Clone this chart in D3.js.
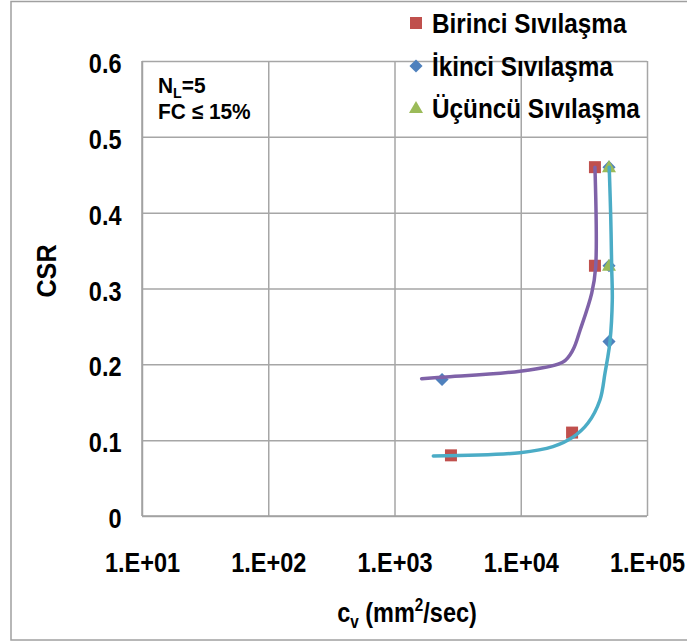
<!DOCTYPE html>
<html><head><meta charset="utf-8">
<script src="https://cdn.jsdelivr.net/npm/d3@7"></script>
<style>
html,body{margin:0;padding:0;background:#fff;}
svg text{font-family:"Liberation Sans",Arial,sans-serif;font-weight:bold;fill:#000;}
</style></head>
<body>
<script>
// ---- data ----
const xTicks = [1e1, 1e2, 1e3, 1e4, 1e5];
const xTickLabels = ["1.E+01", "1.E+02", "1.E+03", "1.E+04", "1.E+05"];
const yTicks = [0, 0.1, 0.2, 0.3, 0.4, 0.5, 0.6];
const yTickLabels = ["0", "0.1", "0.2", "0.3", "0.4", "0.5", "0.6"];
const seriesNames = ["Birinci Sıvılaşma", "İkinci Sıvılaşma", "Üçüncü Sıvılaşma"];
const birinciCv = [38700, 38700, 25500, 2800];
const birinciCsr = [0.46, 0.33, 0.11, 0.08];
const ikinciCv = [50000, 50000, 50000, 2380];
const ikinciCsr = [0.46, 0.33, 0.23, 0.18];
const ucuncuCv = [50000, 50000];
const ucuncuCsr = [0.46, 0.33];
// fitted curves
const purpleCv = [1640, 2420, 9860, 21600, 25900, 29500, 36500, 39200, 38700];
const purpleCsr = [0.181, 0.183, 0.191, 0.203, 0.219, 0.245, 0.294, 0.328, 0.46];
const cyanCv = [2030, 9860, 18000, 25900, 34100, 42400, 46500, 48500, 50900, 53100, 52500, 51600, 50200];
const cyanCsr = [0.079, 0.0835, 0.0914, 0.104, 0.1226, 0.153, 0.1886, 0.206, 0.23, 0.285, 0.329, 0.395, 0.46];

const W = 687, H = 641;
const FS = 27, SX = 0.87;
const FF = '"Liberation Sans",Arial,sans-serif';
const svg = d3.select("body").append("svg").attr("width", W).attr("height", H);

// outer border
svg.append("rect").attr("x", 11).attr("y", 1.5).attr("width", 700).attr("height", 638.5)
  .attr("fill", "none").attr("stroke", "#a0a0a0").attr("stroke-width", 1.5);

const L = 142, R = 647, T = 61, B = 516;
const x = d3.scaleLog().domain([10, 1e5]).range([L, R]);
const y = d3.scaleLinear().domain([0, 0.6]).range([B, T]);

// x axis with grid
const xAxis = svg.append("g").attr("transform", `translate(0,${B})`)
  .call(d3.axisBottom(x).tickValues(xTicks).tickSize(-(B - T)).tickFormat((d, i) => xTickLabels[i]));
xAxis.select(".domain").remove();
xAxis.selectAll("line").attr("stroke", "#a6a6a6").attr("stroke-width", 1.5);
xAxis.selectAll("text").attr("y", 56).attr("dy", 0).attr("font-size", FS)
  .attr("transform", `scale(${SX},1)`).style("font-family", FF).style("font-weight", "bold");

// y axis with grid
const yAxis = svg.append("g").attr("transform", `translate(${L},0)`)
  .call(d3.axisLeft(y).tickValues(yTicks).tickSize(-(R - L)).tickFormat((d, i) => yTickLabels[i]));
yAxis.select(".domain").remove();
yAxis.selectAll("line").attr("stroke", "#a6a6a6").attr("stroke-width", 1.5);
yAxis.selectAll("text").attr("x", -20.5 / SX).attr("dy", "0.43em").attr("font-size", FS)
  .attr("transform", `scale(${SX},1)`).style("font-family", FF).style("font-weight", "bold");

// axis lines (left & bottom)
svg.append("line").attr("x1", L).attr("x2", L).attr("y1", T).attr("y2", B).attr("stroke", "#a0a0a0").attr("stroke-width", 1.5);
svg.append("line").attr("x1", L).attr("x2", R).attr("y1", B).attr("y2", B).attr("stroke", "#a0a0a0").attr("stroke-width", 1.5);

// axis titles
const xt = svg.append("text").attr("transform", `translate(407,622) scale(${SX},1)`).attr("text-anchor", "middle").attr("font-size", FS);
xt.append("tspan").text("c");
xt.append("tspan").attr("font-size", FS * 0.65).attr("dy", 6).text("v");
xt.append("tspan").attr("dy", -6).text(" (mm");
xt.append("tspan").attr("font-size", FS * 0.65).attr("dy", -11).text("2");
xt.append("tspan").attr("dy", 11).text("/sec)");

svg.append("text").attr("transform", `translate(56,271) rotate(-90) scale(0.9,1)`).attr("text-anchor", "middle")
  .attr("font-size", 28).text("CSR");

// annotation
const a1 = svg.append("text").attr("transform", `translate(158,93) scale(0.95,1)`).attr("font-size", 22);
a1.append("tspan").text("N");
a1.append("tspan").attr("font-size", 15).attr("dy", 5).text("L");
a1.append("tspan").attr("dy", -5).text("=5");
svg.append("text").attr("transform", `translate(158,119) scale(0.95,1)`).attr("font-size", 22).text("FC ≤ 15%");

// markers
const red = "#c0504d", blue = "#4f81bd", green = "#9bbb59", purple = "#7f62a8", cyan = "#4bacc6";
const sq = d3.symbol().type(d3.symbolSquare).size(144);
const dia = d3.symbol().type(d3.symbolDiamond2).size(110);
const tri = d3.symbol().type(d3.symbolTriangle).size(85);

svg.append("g").selectAll("path").data(d3.range(birinciCv.length)).join("path")
  .attr("d", sq).attr("fill", red)
  .attr("transform", i => `translate(${x(birinciCv[i])},${y(birinciCsr[i])})`);
svg.append("g").selectAll("path").data(d3.range(ikinciCv.length)).join("path")
  .attr("d", dia).attr("fill", blue)
  .attr("transform", i => `translate(${x(ikinciCv[i])},${y(ikinciCsr[i])})`);
svg.append("g").selectAll("path").data(d3.range(ucuncuCv.length)).join("path")
  .attr("d", tri).attr("fill", green)
  .attr("transform", i => `translate(${x(ucuncuCv[i])},${y(ucuncuCsr[i]) + 1})`);

// curves
const line = d3.line().x(d => x(d[0])).y(d => y(d[1])).curve(d3.curveCatmullRom.alpha(0.5));
svg.append("path").datum(purpleCv.map((v, i) => [v, purpleCsr[i]])).attr("d", line)
  .attr("fill", "none").attr("stroke", purple).attr("stroke-width", 3.5).attr("stroke-linecap", "round");
svg.append("path").datum(cyanCv.map((v, i) => [v, cyanCsr[i]])).attr("d", line)
  .attr("fill", "none").attr("stroke", cyan).attr("stroke-width", 3.5).attr("stroke-linecap", "round");

// legend
const legY = [23, 66, 108];
const lg = svg.append("g");
lg.append("path").attr("d", sq).attr("fill", red).attr("transform", `translate(416,${legY[0]})`);
lg.append("path").attr("d", dia).attr("fill", blue).attr("transform", `translate(416,${legY[1]})`);
lg.append("path").attr("d", tri).attr("fill", green).attr("transform", `translate(416,${legY[2] + 1})`);
seriesNames.forEach((n, i) => {
  lg.append("text").attr("transform", `translate(432,${legY[i] + 10}) scale(0.9,1)`).attr("font-size", FS).text(n);
});
</script>
</body></html>
